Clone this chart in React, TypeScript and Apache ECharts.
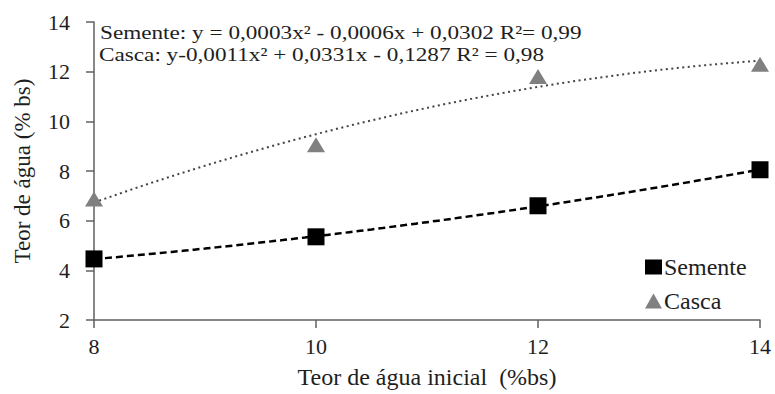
import React, { useEffect, useRef } from "react";
import * as echarts from "echarts";

const xValues = [8, 10, 12, 14];
const sementeValues = [4.46, 5.35, 6.6, 8.05];
const cascaValues = [6.87, 9.06, 11.81, 12.3];
const yTicks = [2, 4, 6, 8, 10, 12, 14];
const xTicks = [8, 10, 12, 14];
const eqSemente = "Semente: y = 0,0003x\u00b2 - 0,0006x + 0,0302 R\u00b2= 0,99";
const eqCasca = "Casca: y-0,0011x\u00b2 + 0,0331x - 0,1287 R\u00b2 = 0,98";

// least-squares quadratic fit computed from the data arrays (trendline, as in the source)
function quadFit(xs: number[], ys: number[]) {
  const n = xs.length;
  let s1 = 0, s2 = 0, s3 = 0, s4 = 0, sy = 0, sxy = 0, sx2y = 0;
  for (let i = 0; i < n; i++) {
    const x = xs[i], y = ys[i];
    s1 += x; s2 += x * x; s3 += x ** 3; s4 += x ** 4;
    sy += y; sxy += x * y; sx2y += x * x * y;
  }
  const M = [
    [n, s1, s2, sy],
    [s1, s2, s3, sxy],
    [s2, s3, s4, sx2y],
  ];
  for (let c = 0; c < 3; c++) {
    for (let r = c + 1; r < 3; r++) {
      const f = M[r][c] / M[c][c];
      for (let k = c; k < 4; k++) M[r][k] -= f * M[c][k];
    }
  }
  const coef = [0, 0, 0];
  for (let r = 2; r >= 0; r--) {
    let s = M[r][3];
    for (let k = r + 1; k < 3; k++) s -= M[r][k] * coef[k];
    coef[r] = s / M[r][r];
  }
  const pts: number[][] = [];
  const x0 = xs[0], x1 = xs[n - 1];
  const steps = 60;
  for (let i = 0; i <= steps; i++) {
    const x = x0 + ((x1 - x0) * i) / steps;
    pts.push([x, coef[0] + coef[1] * x + coef[2] * x * x]);
  }
  return pts;
}

const FONT = "Liberation Serif";
const TXT = "#1e1e1e";

export default function App() {
  const ref = useRef<HTMLDivElement>(null);
  useEffect(() => {
    if (!ref.current) return;
    const chart = echarts.init(ref.current, undefined, { renderer: "svg" });
    const axisColor = "#606060";
    chart.setOption({
      animation: false,
      backgroundColor: "#ffffff",
      textStyle: { fontFamily: FONT },
      grid: { left: 94, right: 15, top: 22, bottom: 69, containLabel: false },
      xAxis: {
        type: "value",
        min: xTicks[0],
        max: xTicks[xTicks.length - 1],
        interval: 2,
        name: "Teor de água inicial  (%bs)",
        nameLocation: "middle",
        nameGap: 45,
        nameTextStyle: { fontFamily: FONT, fontSize: 24, color: TXT },
        axisLine: { show: true, lineStyle: { color: axisColor, width: 1.5 } },
        axisTick: { show: true, length: 8, lineStyle: { color: axisColor, width: 1.5 } },
        axisLabel: { fontFamily: FONT, fontSize: 22, color: TXT, margin: 15 },
        splitLine: { show: false },
      },
      yAxis: {
        type: "value",
        min: yTicks[0],
        max: yTicks[yTicks.length - 1],
        interval: 2,
        name: "Teor de água (% bs)",
        nameLocation: "middle",
        nameGap: 60,
        nameTextStyle: { fontFamily: FONT, fontSize: 23, color: TXT },
        axisLine: { show: true, lineStyle: { color: axisColor, width: 1.5 } },
        axisTick: { show: true, length: 8, lineStyle: { color: axisColor, width: 1.5 } },
        axisLabel: { fontFamily: FONT, fontSize: 22, color: TXT, margin: 24 },
        splitLine: { show: false },
      },
      legend: {
        orient: "vertical",
        left: 640,
        top: 250,
        itemWidth: 17,
        itemHeight: 15,
        itemGap: 10,
        textStyle: { fontFamily: FONT, fontSize: 24, color: TXT, padding: [0, 0, 0, -3] },
        data: [
          { name: "Semente", icon: "rect", itemStyle: { color: "#000", opacity: 1 } },
          { name: "Casca", icon: "triangle", itemStyle: { color: "#808080", opacity: 1 } },
        ],
      },
      graphic: [
        {
          type: "text",
          x: 100,
          y: 23,
          scaleX: 1.19,
          style: { text: eqSemente, fontSize: 19.5, fontFamily: FONT, fill: TXT },
        },
        {
          type: "text",
          x: 99,
          y: 45,
          scaleX: 1.19,
          style: { text: eqCasca, fontSize: 19.5, fontFamily: FONT, fill: TXT },
        },
      ],
      series: [
        {
          name: "Semente trend",
          type: "line",
          data: quadFit(xValues, sementeValues),
          showSymbol: false,
          symbol: "none",
          lineStyle: { color: "#000", width: 2.5, type: [7, 4] },
          silent: true,
          z: 2,
        },
        {
          name: "Casca trend",
          type: "line",
          data: quadFit(xValues, cascaValues),
          showSymbol: false,
          symbol: "none",
          lineStyle: { color: "#444", width: 2, type: [2, 3.5] },
          silent: true,
          z: 2,
        },
        {
          name: "Semente",
          type: "scatter",
          symbol: "rect",
          symbolSize: 17,
          itemStyle: { color: "#000", opacity: 1 },
          data: xValues.map((x, i) => [x, sementeValues[i]]),
          z: 5,
        },
        {
          name: "Casca",
          type: "scatter",
          symbol: "triangle",
          symbolSize: [18, 15],
          itemStyle: { color: "#808080", opacity: 1 },
          data: xValues.map((x, i) => [x, cascaValues[i]]),
          z: 5,
        },
      ],
    });
    return () => chart.dispose();
  }, []);
  return <div ref={ref} style={{ width: 775, height: 394, position: "absolute", left: 0, top: 0 }} />;
}
